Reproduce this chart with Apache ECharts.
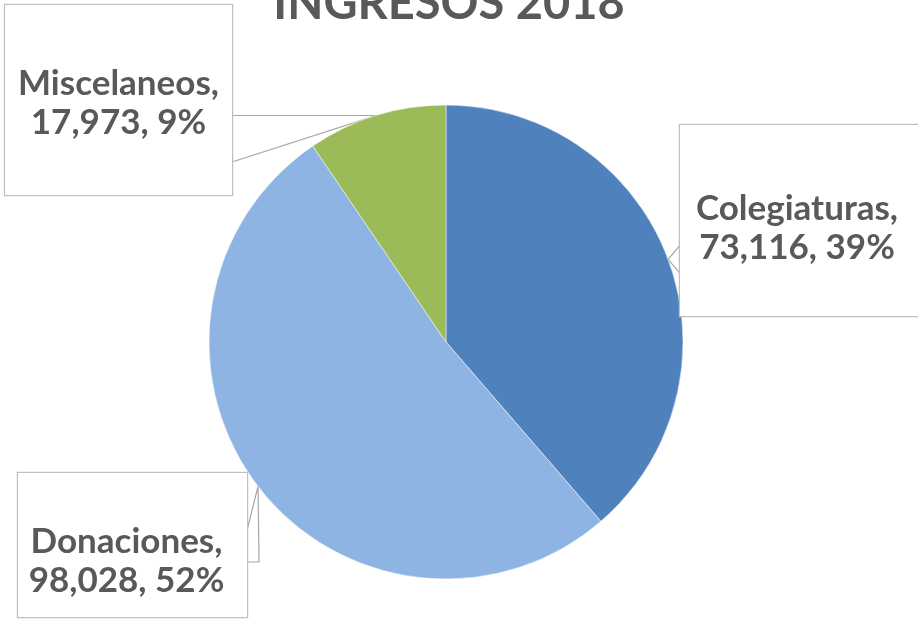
<!DOCTYPE html>
<html>
<head>
<meta charset="utf-8">
<script src="https://cdn.jsdelivr.net/npm/echarts@6/dist/echarts.min.js"></script>
<style>
html,body{margin:0;padding:0;background:#fff;}
#main{width:918px;height:620px;}
</style>
</head>
<body>
<div id="main"></div>
<script>
const titleText = "INGRESOS 2018";
const categories = ["Colegiaturas", "Donaciones", "Miscelaneos"];
const values = [73116, 98028, 17973];
const percents = ["39%", "52%", "9%"];
const colors = ["#4F81BD", "#8DB4E2", "#9BBB59"];

// label box geometry: left, top, right, bottom, vertical text offset, horizontal text shift
const boxes = {
  "Colegiaturas": {l: 680, t: 125, r: 922, b: 316, off: 8,  hs: 4},
  "Donaciones":   {l: 18,  t: 473, r: 247, b: 617, off: 16, hs: 6},
  "Miscelaneos":  {l: 5,   t: 5,   r: 232, b: 195, off: 3,  hs: 0}
};

const chart = echarts.init(document.getElementById('main'), null, {renderer: 'canvas'});
const fmt = n => n.toLocaleString('en-US');
const LH = 39;

const data = categories.map((c, i) => {
  const b = boxes[c];
  const h = b.b - b.t;
  const padTot = h - 2 * LH;
  const padT = padTot / 2 + b.off;
  const padB = padTot / 2 - b.off;
  return {
    name: c,
    value: values[i],
    itemStyle: {color: colors[i]},
    label: {
      width: b.r - b.l - 2 * b.hs,
      padding: [padT, 2 * b.hs, padB, 0],
      lineHeight: LH
    }
  };
});

function leader(name, a) {
  const b = boxes[name];
  const ax = a[0], ay = a[1];
  if (name === "Miscelaneos") {
    return [[b.r, b.t + 157], [ax, ay], [b.r, ay]];
  }
  if (name === "Colegiaturas") {
    return [[b.l, ay - 14], [ax, ay], [b.l, ay + 14]];
  }
  // Donaciones
  return [[b.r, ay + 44], [ax, ay], [ax + 1, b.t + 89], [b.r, b.t + 89]];
}

chart.setOption({
  animation: false,
  backgroundColor: '#ffffff',
  title: {
    text: titleText,
    left: 444,
    textAlign: 'center',
    top: -25,
    textStyle: {fontFamily: 'Lato', fontWeight: 'bold', fontSize: 47, color: '#595959'}
  },
  series: [{
    type: 'pie',
    center: [446, 342],
    radius: 237,
    startAngle: 90,
    clockwise: true,
    data: data,
    itemStyle: {borderColor: '#ffffff', borderWidth: 0.5},
    label: {
      show: true,
      formatter: p => p.name + ',\n' + fmt(p.value) + ', ' + percents[p.dataIndex],
      fontFamily: 'Lato',
      fontWeight: 'bold',
      fontSize: 35,
      color: '#595959',
      align: 'center',
      verticalAlign: 'top',
      backgroundColor: '#ffffff',
      borderColor: '#BFBFBF',
      borderWidth: 1.2
    },
    labelLine: {
      show: true,
      lineStyle: {color: '#A6A6A6', width: 1.2}
    },
    labelLayout: function (params) {
      const name = categories[params.dataIndex];
      const b = boxes[name];
      const res = {
        x: (b.l + b.r) / 2,
        y: b.t,
        align: 'center',
        verticalAlign: 'top',
        hideOverlap: false
      };
      if (params.labelLinePoints && params.labelLinePoints.length) {
        res.labelLinePoints = leader(name, params.labelLinePoints[0]);
      }
      return res;
    }
  }]
});
</script>
</body>
</html>
